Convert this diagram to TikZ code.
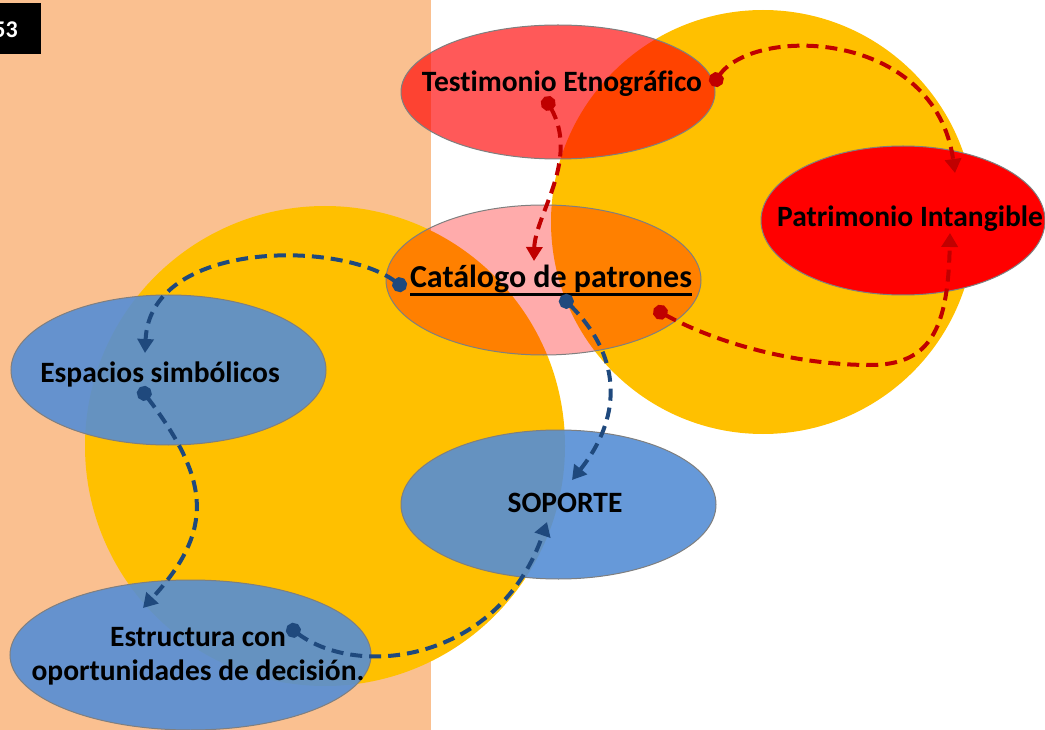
\documentclass[tikz,border=0pt]{standalone}
\usepackage{fontspec}
\setmainfont{Carlito}[Ligatures=NoCommon]
\usetikzlibrary{shapes.geometric,arrows.meta}
\definecolor{peach}{HTML}{FAC090}
\definecolor{gold}{HTML}{FFC000}
\definecolor{sky}{HTML}{558ED5}
\definecolor{darkred}{HTML}{C00000}
\definecolor{navy}{HTML}{1F497D}
\definecolor{rim}{HTML}{7F7F7F}
\newcommand\ulbar[1]{\setbox0\hbox{#1}\rlap{\rule[-7.5pt]{\wd0}{3pt}}\box0}
\tikzset{
  oval/.style={ellipse, draw=rim, line width=1pt, inner sep=0pt},
  redoval/.style={oval, fill=red},
  blueoval/.style={oval, fill=sky, fill opacity=0.9},
  lbl/.style={font=\bfseries\fontsize{29.5}{34}\selectfont, inner sep=0pt, anchor=base, align=center},
  link/.style={line width=4pt, dash pattern=on 12pt off 7pt, shorten <=-7pt,
    {Circle[length=15pt]}-{Triangle[length=14pt,width=16pt]}},
  rlink/.style={link, draw=darkred},
  blink/.style={link, draw=navy},
}
\begin{document}
\begin{tikzpicture}[x=1pt,y=-1pt]
\useasboundingbox (0,0) rectangle (1045,730);
\fill[peach] (0,0) rectangle (431,730);
\fill[black] (0,3) rectangle (41,54);
\node[font=\bfseries\fontsize{24}{28}\selectfont, text=white, inner sep=0pt, anchor=base east] (pg) at (18,38) {53};
\fill[gold] (325,446) circle[radius=240];
\fill[gold] (763,222) circle[radius=212];

\node[redoval, fill opacity=0.65, minimum width=314pt, minimum height=134pt] (test) at (558,92) {};
\node[redoval, minimum width=284pt, minimum height=149pt] (patr) at (903,220.5) {};
\node[redoval, fill opacity=0.33, minimum width=315pt, minimum height=150pt] (cat) at (543.5,280) {};
\node[blueoval, minimum width=315pt, minimum height=150pt] (esp) at (168.5,370) {};
\node[blueoval, minimum width=315pt, minimum height=149pt] (sop) at (558.5,504.5) {};
\node[blueoval, minimum width=361pt, minimum height=150pt] (est) at (190.5,655) {};

\node[lbl] (test-t) at (562,92) {Testimonio Etnográfico};
\node[lbl] (patr-t) at (910,227) {Patrimonio Intangible};
\node[lbl, font=\bfseries\fontsize{32}{38}\selectfont] (cat-t) at (551,288) {\ulbar{Catálogo de patrones}};
\node[lbl] (esp-t) at (160,382) {Espacios simbólicos};
\node[lbl] (sop-t) at (565,512) {SOPORTE};
\node[lbl] (est-t) at (198,680) {Estructura con\\oportunidades de decisión.};

\coordinate (r1a) at (548,103); \coordinate (r1b) at (534,261);
\coordinate (r2a) at (716,80);  \coordinate (r2b) at (955,173);
\coordinate (r3a) at (660,312); \coordinate (r3b) at (950,233);
\coordinate (b4a) at (400,285); \coordinate (b4b) at (145,353);
\coordinate (b5a) at (144,393); \coordinate (b5b) at (143,608);
\coordinate (b6a) at (293,630); \coordinate (b6b) at (547,522);
\coordinate (b7a) at (566,301); \coordinate (b7b) at (572,480);

\draw[rlink] (r1a) .. controls (580,160) and (535,215) .. (r1b);
\draw[rlink] (r2a) .. controls (755,25) and (935,30) .. (r2b);
\draw[rlink] (r3a) .. controls (720,345) and (800,365) .. (870,365) .. controls (930,365) and (948,330) .. (r3b);
\draw[blink] (b4a) .. controls (340,240) and (150,240) .. (b4b);
\draw[blink] (b5a) .. controls (210,480) and (215,530) .. (b5b);
\draw[blink] (b6a) .. controls (360,680) and (500,660) .. (b6b);
\draw[blink] (b7a) .. controls (625,360) and (620,420) .. (b7b);
\end{tikzpicture}
\end{document}
